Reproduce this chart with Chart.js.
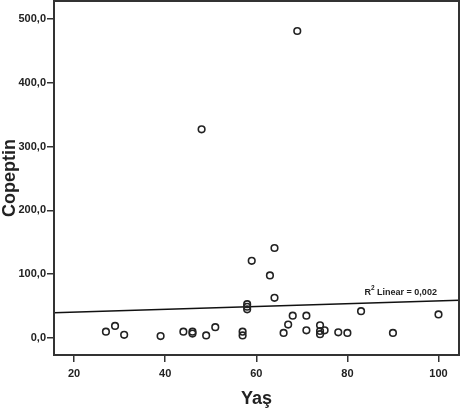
<!DOCTYPE html>
<html>
<head>
<meta charset="utf-8">
<script src="https://cdn.jsdelivr.net/npm/chart.js@4"></script>
<style>
  html, body { margin: 0; padding: 0; background: #fff; }
  canvas { display: block; }
</style>
</head>
<body>
<canvas id="scatter" width="467" height="410"></canvas>
<script>
// Data
const age      = [27, 29, 31, 39, 44, 46, 46, 48, 49, 51, 57, 57, 58, 58, 58, 59, 63, 64, 64, 66, 67, 68, 69, 71, 71, 74, 74, 74, 75, 78, 80, 83, 90, 100];
const copeptin = [10, 19, 5, 3, 10, 10, 7, 327, 4, 17, 10, 4, 53, 49, 45, 121, 98, 141, 63, 8, 21, 35, 481, 35, 12, 20, 11, 6, 12, 9, 8, 42, 8, 37];

// fit line end points (at the plot edges)
const fitX = [15.6, 104.5];
const fitY = [39.7, 59.1];

const xTicks = [20, 40, 60, 80, 100];
const yTicks = [0, 100, 200, 300, 400, 500];
const fitLabel = ['R', '2', ' Linear = 0,002'];

const FONT = "Arial, 'Liberation Sans', sans-serif";
const INK = '#222';

const points = age.map((a, i) => ({ x: a, y: copeptin[i] }));
const fitLine = fitX.map((a, i) => ({ x: a, y: fitY[i] }));

const fmt = v => v.toFixed(1).replace('.', ',');

// frame round the plot + the R2 label
const framePlugin = {
  id: 'frame',
  afterDatasetsDraw(chart) {
    const { ctx, chartArea: a, scales } = chart;
    ctx.save();
    ctx.strokeStyle = '#333';
    ctx.lineWidth = 2;
    ctx.strokeRect(a.left, a.top, a.right - a.left, a.bottom - a.top);

    // label above the fit line, right side
    const cx = scales.x.getPixelForValue(91.7);
    const cy = scales.y.getPixelForValue(72);
    ctx.fillStyle = INK;
    ctx.textBaseline = 'middle';
    ctx.font = 'bold 9px ' + FONT;
    const w0 = ctx.measureText(fitLabel[0]).width;
    ctx.font = 'bold 6.5px ' + FONT;
    const w1 = ctx.measureText(fitLabel[1]).width;
    ctx.font = 'bold 9px ' + FONT;
    const w2 = ctx.measureText(fitLabel[2]).width;
    let x = cx - (w0 + w1 + w2) / 2;
    ctx.textAlign = 'left';
    ctx.fillText(fitLabel[0], x, cy);
    x += w0;
    ctx.font = 'bold 6.5px ' + FONT;
    ctx.fillText(fitLabel[1], x, cy - 4);
    x += w1;
    ctx.font = 'bold 9px ' + FONT;
    ctx.fillText(fitLabel[2], x, cy);
    ctx.restore();
  }
};

new Chart(document.getElementById('scatter'), {
  type: 'scatter',
  data: {
    datasets: [
      {
        data: points,
        pointStyle: 'circle',
        pointRadius: 3.3,
        pointBorderWidth: 1.6,
        borderColor: INK,
        backgroundColor: 'rgba(0,0,0,0)',
        pointHoverRadius: 3.3
      },
      {
        type: 'line',
        data: fitLine,
        borderColor: '#111',
        borderWidth: 1.5,
        pointRadius: 0,
        fill: false
      }
    ]
  },
  options: {
    responsive: false,
    devicePixelRatio: 1,
    animation: false,
    layout: { autoPadding: false, padding: { top: 1, right: 8, left: 0, bottom: 0 } },
    plugins: {
      legend: { display: false },
      tooltip: { enabled: false }
    },
    scales: {
      x: {
        type: 'linear',
        min: 15.6,
        max: 104.5,
        afterBuildTicks: axis => { axis.ticks = xTicks.map(v => ({ value: v })); },
        afterFit: axis => { axis.height = 55; axis.paddingLeft = 0; axis.paddingRight = 0; },
        border: { display: false },
        grid: { drawOnChartArea: false, drawTicks: true, tickLength: 7, color: '#333', lineWidth: 1.5 },
        ticks: {
          color: INK,
          padding: 5,
          maxRotation: 0,
          font: { family: FONT, size: 11, weight: 'bold' }
        },
        title: {
          display: true,
          text: 'Yaş',
          color: INK,
          padding: { top: 0, bottom: 1 },
          font: { family: FONT, size: 18, weight: 'bold', lineHeight: 1.1 }
        }
      },
      y: {
        type: 'linear',
        min: -26.6,
        max: 528,
        afterBuildTicks: axis => { axis.ticks = yTicks.map(v => ({ value: v })); },
        afterFit: axis => { axis.width = 54; axis.paddingTop = 0; axis.paddingBottom = 0; },
        border: { display: false },
        grid: { drawOnChartArea: false, drawTicks: true, tickLength: 7, color: '#333', lineWidth: 1.5 },
        ticks: {
          color: INK,
          padding: 1,
          font: { family: FONT, size: 11, weight: 'bold' },
          callback: v => fmt(v)
        },
        title: {
          display: true,
          text: 'Copeptin',
          color: INK,
          padding: { top: 1, bottom: 0 },
          font: { family: FONT, size: 18, weight: 'bold', lineHeight: 1.0 }
        }
      }
    }
  },
  plugins: [framePlugin]
});
</script>
</body>
</html>
